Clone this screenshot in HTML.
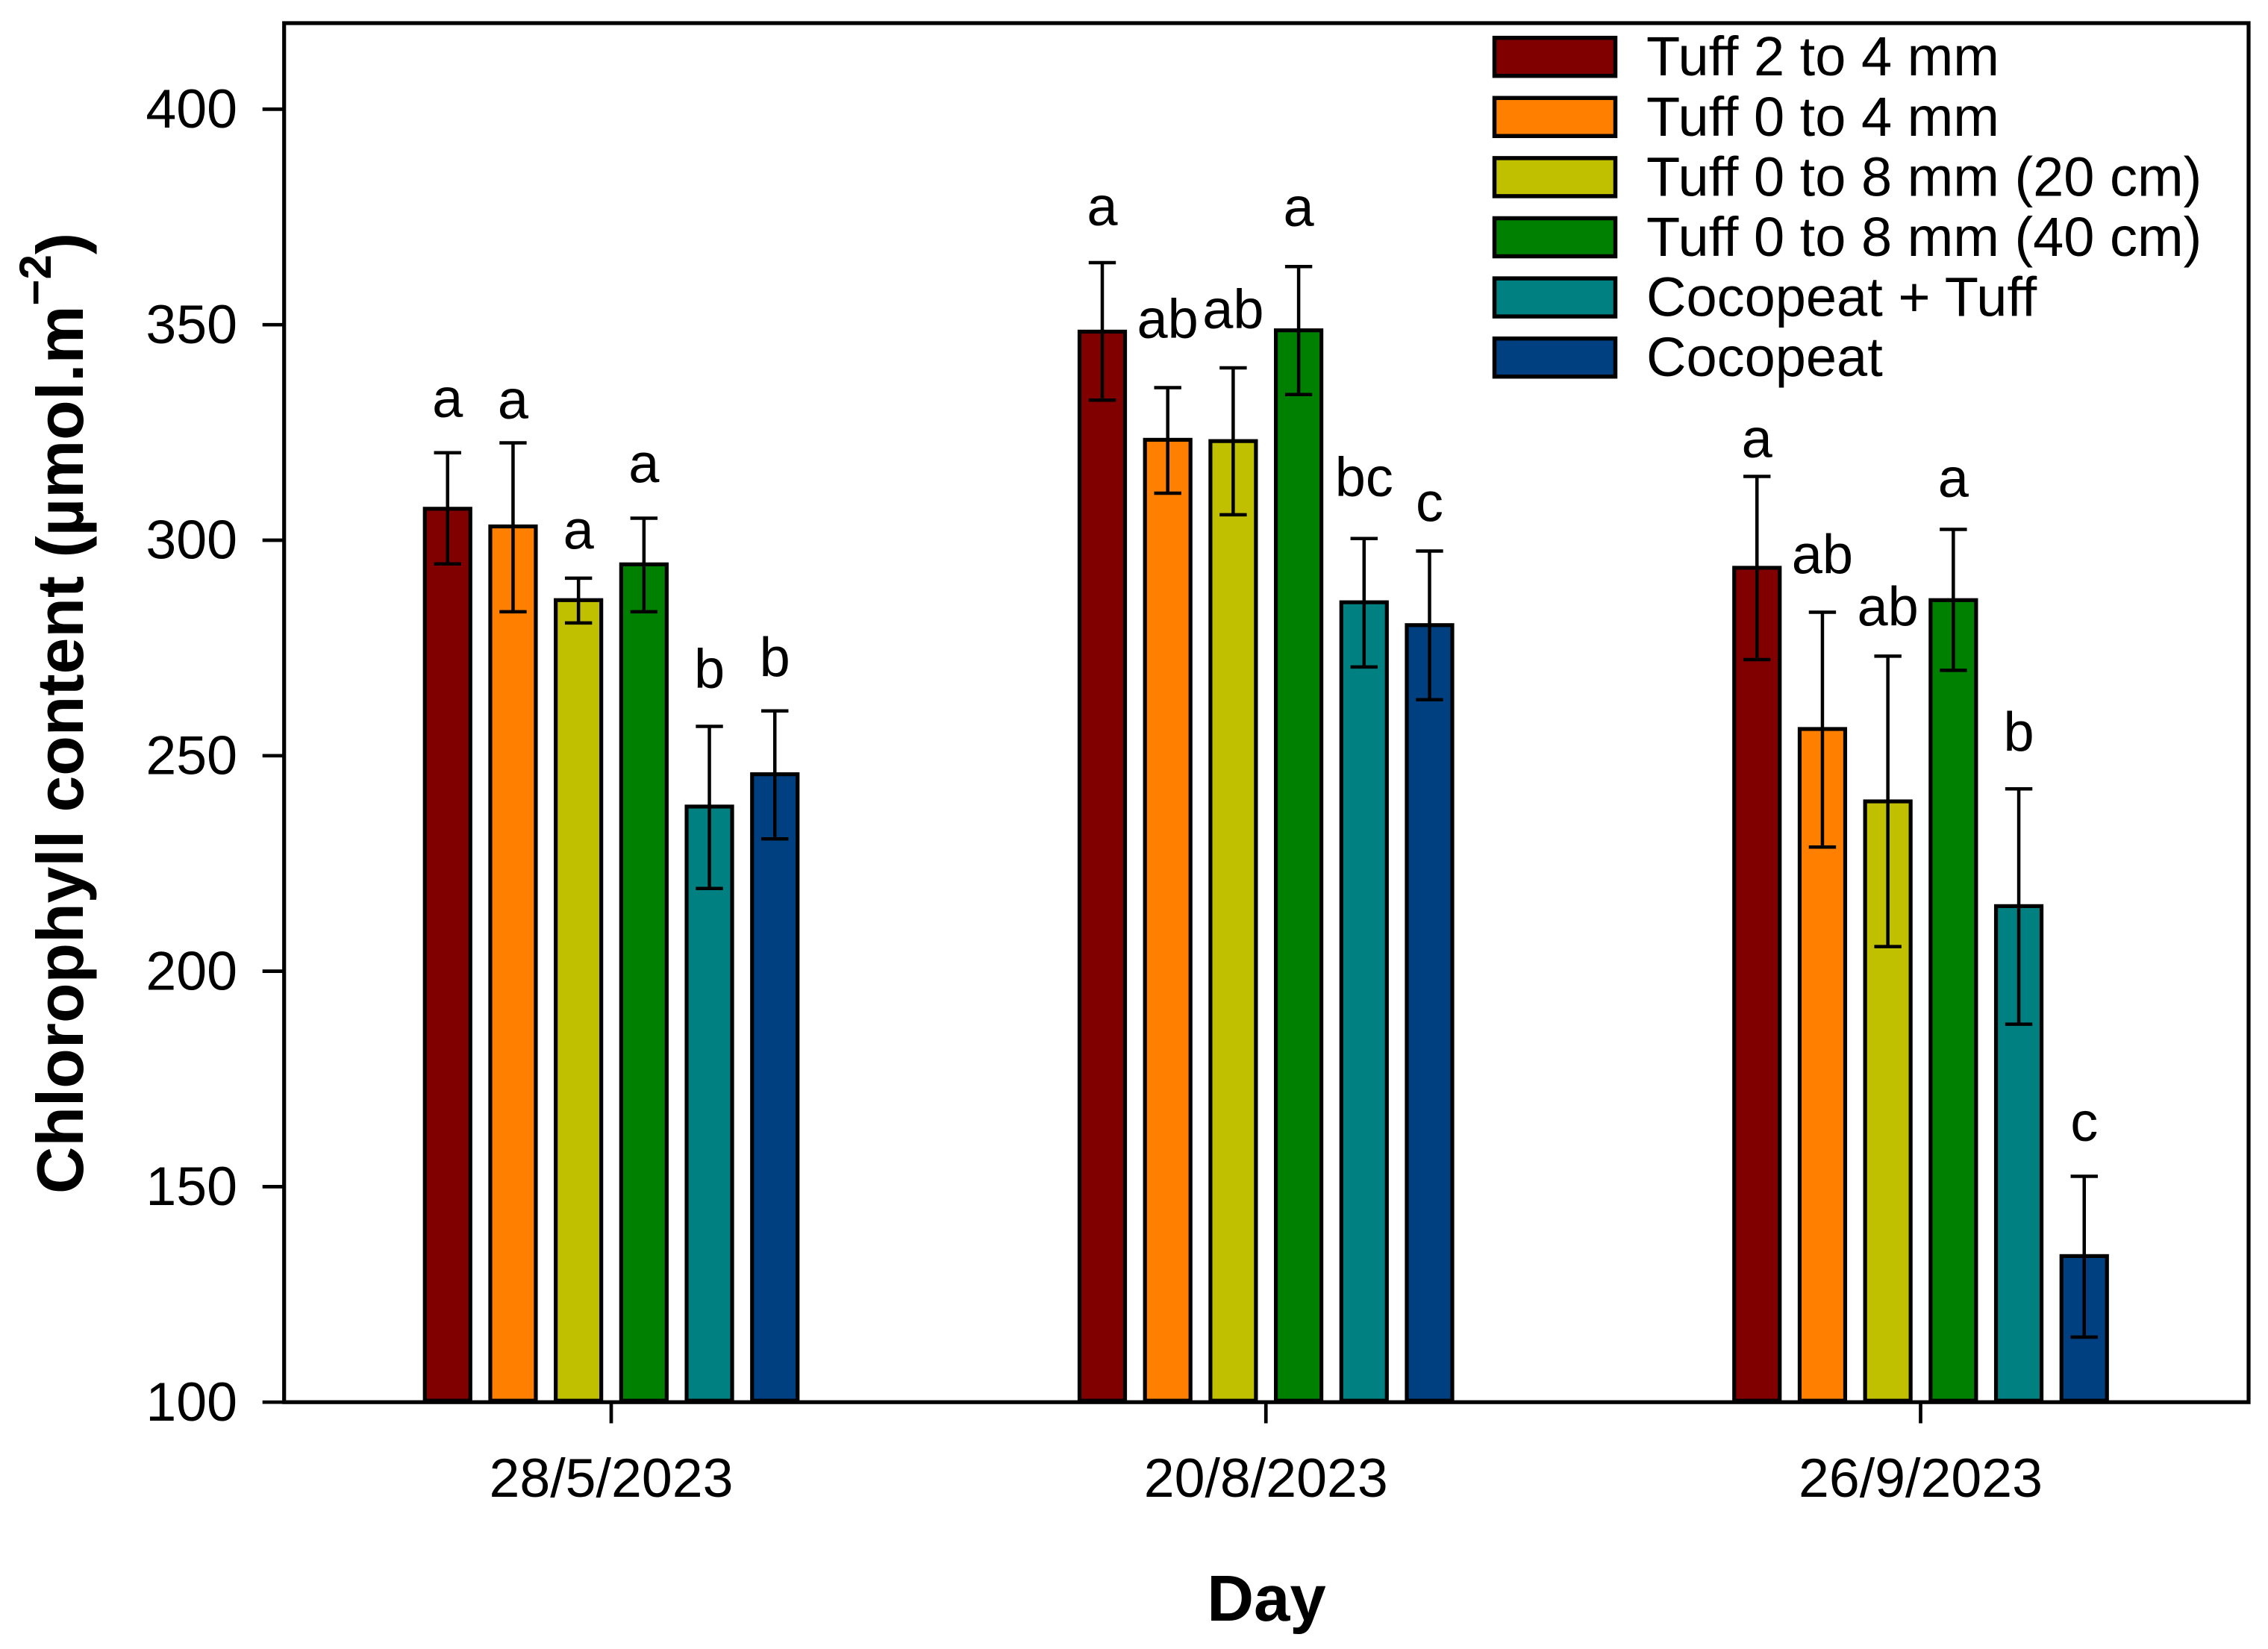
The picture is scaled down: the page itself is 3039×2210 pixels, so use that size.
<!DOCTYPE html>
<html lang="en">
<head>
<meta charset="utf-8">
<title>Chlorophyll content by day</title>
<style>
html,body{margin:0;padding:0;background:#fff;width:3039px;height:2210px;overflow:hidden}
svg{display:block;font-family:"Liberation Sans",Arial,sans-serif}
</style>
</head>
<body>
<svg id="chart" xmlns="http://www.w3.org/2000/svg" width="3039" height="2210" viewBox="0 0 3039 2210">
<rect x="0" y="0" width="3039" height="2210" fill="#fff"/>
<g id="bars"></g>
<g id="errors"></g>
<g id="letters"></g>
<rect x="380.7" y="31" width="2632.3" height="1848.2" fill="none" stroke="#000" stroke-width="5.2"/>
<g id="y-axis"></g>
<g id="x-axis"></g>
<text transform="translate(111,1600) rotate(-90)" font-size="87.7" font-weight="bold" fill="#000">Chlorophyll content (µmol.m<tspan font-size="60" dy="-43">−2</tspan><tspan dy="43">)</tspan></text>
<text x="1697" y="2172" font-size="87" font-weight="bold" text-anchor="middle" fill="#000">Day</text>
<g id="legend"></g>
</svg>
<script>
const categories = ["28/5/2023", "20/8/2023", "26/9/2023"];
const seriesNames = ["Tuff 2 to 4 mm", "Tuff 0 to 4 mm", "Tuff 0 to 8 mm (20 cm)", "Tuff 0 to 8 mm (40 cm)", "Cocopeat + Tuff", "Cocopeat"];
const seriesColors = ["#800000", "#FF8000", "#C0C000", "#008000", "#008080", "#004080"];
const yTickLabels = [100, 150, 200, 250, 300, 350, 400];

const tuff2to4 = [307.3, 348.4, 293.6];
const tuff0to4 = [303.2, 323.3, 256.2];
const tuff0to8d20 = [286.1, 323, 239.4];
const tuff0to8d40 = [294.4, 348.7, 286.1];
const cocoTuff = [238.2, 285.6, 215.1];
const cocopeat = [245.7, 280.3, 133.9];
const seriesValues = [tuff2to4, tuff0to4, tuff0to8d20, tuff0to8d40, cocoTuff, cocopeat];

const errHigh2to4 = [320.3, 364.4, 314.8];
const errHigh0to4 = [322.6, 335.4, 283.3];
const errHigh0to8d20 = [291.2, 340, 273.1];
const errHigh0to8d40 = [305.1, 363.5, 302.5];
const errHighCocoTuff = [256.8, 300.4, 242.3];
const errHighCocopeat = [260.4, 297.5, 152.4];
const errorHigh = [errHigh2to4, errHigh0to4, errHigh0to8d20, errHigh0to8d40, errHighCocoTuff, errHighCocopeat];

const errLow2to4 = [294.5, 332.5, 272.3];
const errLow0to4 = [283.4, 310.9, 228.8];
const errLow0to8d20 = [280.8, 305.9, 205.7];
const errLow0to8d40 = [283.4, 333.8, 269.8];
const errLowCocoTuff = [219.2, 270.6, 187.7];
const errLowCocopeat = [230.7, 263, 115.1];
const errorLow = [errLow2to4, errLow0to4, errLow0to8d20, errLow0to8d40, errLowCocoTuff, errLowCocopeat];

const letters2to4 = ["a", "a", "a"];
const letters0to4 = ["a", "ab", "ab"];
const letters0to8d20 = ["a", "ab", "ab"];
const letters0to8d40 = ["a", "a", "a"];
const lettersCocoTuff = ["b", "bc", "b"];
const lettersCocopeat = ["b", "c", "c"];
const sigLetters = [letters2to4, letters0to4, letters0to8d20, letters0to8d40, lettersCocoTuff, lettersCocopeat];

/* height of each letter above its error cap, in axis units */
const liftValues2to4 = [8.3, 8.7, 4.4];
const liftValues0to4 = [5.6, 11.5, 9];
const liftValues0to8d20 = [6.8, 9.2, 7.1];
const liftValues0to8d40 = [8.3, 9.4, 7.5];
const liftValuesCocoTuff = [8.9, 9.8, 8.8];
const liftValuesCocopeat = [8, 6.9, 8.2];
const letterLift = [liftValues2to4, liftValues0to4, liftValues0to8d20, liftValues0to8d40, liftValuesCocoTuff, liftValuesCocopeat];

const SVGNS = "http://www.w3.org/2000/svg";
const yScale = v => 1879.2 - (v - 100) * 5.776;
const groupX = i => 819 + i * 877.25;
const barX = (g, s) => groupX(g) + (s - 2.5) * 87.7;

function make(tag, attrs, parent) {
  const el = document.createElementNS(SVGNS, tag);
  for (const k in attrs) el.setAttribute(k, attrs[k]);
  parent.appendChild(el);
  return el;
}

const barsG = document.getElementById("bars");
const errG = document.getElementById("errors");
const lettersG = document.getElementById("letters");
const yAxisG = document.getElementById("y-axis");
const xAxisG = document.getElementById("x-axis");
const legendG = document.getElementById("legend");

seriesValues.forEach((vals, s) => {
  vals.forEach((v, g) => {
    const cx = barX(g, s);
    const top = yScale(v);
    const bar = make("rect", {x: cx - 30.5, y: top, width: 61, height: yScale(100) - 2 - top, fill: seriesColors[s], stroke: "#000", "stroke-width": 5.2}, barsG);
    
    

    const hi = yScale(errorHigh[s][g]);
    const lo = yScale(errorLow[s][g]);
    const d = `M${cx} ${hi}V${lo}M${cx - 18.2} ${hi}H${cx + 18.2}M${cx - 18.2} ${lo}H${cx + 18.2}`;
    const err = make("path", {d: d, fill: "none", stroke: "#000", "stroke-width": 4.5}, errG);
    
    

    const t = make("text", {x: cx, y: yScale(errorHigh[s][g] + letterLift[s][g]), "font-size": 74, "text-anchor": "middle", fill: "#000"}, lettersG);
    t.textContent = sigLetters[s][g];
    
    
  });
});

yTickLabels.forEach(v => {
  const y = yScale(v);
  const tick = make("line", {x1: 351.7, x2: 381, y1: y, y2: y, stroke: "#000", "stroke-width": 4.7}, yAxisG);
  
  
  const t = make("text", {x: 318, y: y + 24.7, "font-size": 73.5, "text-anchor": "end", fill: "#000"}, yAxisG);
  t.textContent = v;
  
  
});

categories.forEach((c, g) => {
  const x = groupX(g);
  const tick = make("line", {x1: x, x2: x, y1: 1879, y2: 1907.5, stroke: "#000", "stroke-width": 4.7}, xAxisG);
  
  
  const t = make("text", {x: x, y: 2006, "font-size": 73.5, "text-anchor": "middle", fill: "#000"}, xAxisG);
  t.textContent = c;
  
  
});

seriesNames.forEach((name, s) => {
  const y = 50.7 + s * 80.6;
  const sw = make("rect", {x: 2002.5, y: y, width: 162, height: 51, fill: seriesColors[s], stroke: "#000", "stroke-width": 5.5}, legendG);
  
  
  const t = make("text", {x: 2206, y: y + 50.5, "font-size": 74, fill: "#000"}, legendG);
  t.textContent = name;
  
  
});
</script>
</body>
</html>
